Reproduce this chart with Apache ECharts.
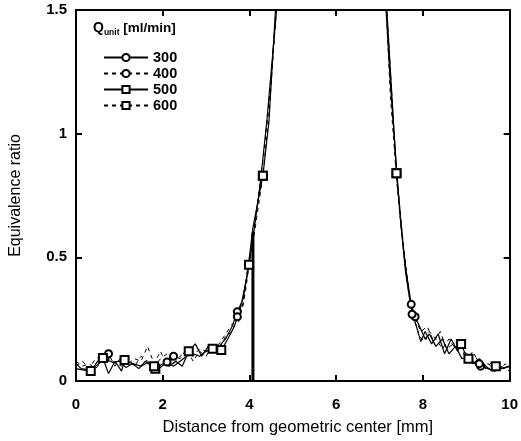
<!DOCTYPE html>
<html>
<head>
<meta charset="utf-8">
<script src="https://cdn.jsdelivr.net/npm/echarts@6/dist/echarts.min.js"></script>
<style>html,body{margin:0;padding:0;background:#fff}#c{width:521px;height:441px}</style>
</head>
<body>
<div id="c"></div>
<script>
// ---- data (x: distance [mm], y: equivalence ratio) ----
var x300 = [0,0.12,0.3,0.45,0.67,0.85,1.0,1.15,1.3,1.5,1.65,1.8,1.95,2.1,2.25,2.4,2.55,2.7,2.85,3.0,3.15,3.3,3.45,3.6,3.72,3.85,3.99,4.1,4.25,4.4,4.55,4.7,
            7.1,7.25,7.4,7.5,7.6,7.73,7.82,7.95,8.05,8.15,8.3,8.45,8.6,8.75,8.9,9.05,9.2,9.33,9.5,9.65,9.8,10];
var y300 = [0.07,0.05,0.045,0.06,0.09,0.075,0.08,0.055,0.07,0.06,0.075,0.06,0.055,0.077,0.06,0.08,0.1,0.11,0.1,0.12,0.13,0.14,0.17,0.22,0.28,0.33,0.47,0.6,0.8,1.05,1.35,1.65,
            1.65,1.2,0.84,0.62,0.46,0.31,0.26,0.21,0.17,0.19,0.14,0.17,0.11,0.14,0.09,0.1,0.07,0.06,0.05,0.04,0.05,0.06];
var m300 = [0.67,2.1,3.72,7.73,7.82,9.33];

var x400 = [0,0.15,0.3,0.45,0.6,0.75,0.9,1.05,1.2,1.35,1.5,1.65,1.8,1.95,2.1,2.25,2.4,2.55,2.7,2.85,3.0,3.15,3.3,3.45,3.6,3.72,3.85,3.95,4.05,4.2,4.35,4.5,4.65,
            7.1,7.25,7.4,7.52,7.62,7.75,7.85,7.95,8.1,8.25,8.4,8.55,8.7,8.85,9.0,9.15,9.3,9.45,9.6,9.75,9.9,10];
var y400 = [0.06,0.08,0.05,0.09,0.1,0.11,0.06,0.1,0.07,0.09,0.08,0.14,0.07,0.12,0.06,0.1,0.09,0.13,0.08,0.12,0.1,0.15,0.13,0.18,0.2,0.26,0.3,0.45,0.55,0.74,0.95,1.22,1.6,
            1.7,1.15,0.8,0.58,0.42,0.27,0.24,0.2,0.22,0.16,0.2,0.13,0.15,0.16,0.08,0.12,0.07,0.05,0.08,0.04,0.07,0.05];
var m400 = [0.75,2.25,3.72,7.75,9.3];

var x500 = [0,0.15,0.34,0.5,0.62,0.75,0.9,1.05,1.12,1.3,1.45,1.6,1.75,1.83,2.0,2.15,2.3,2.45,2.6,2.75,2.9,3.05,3.2,3.35,3.5,3.65,3.8,3.95,4.08,4.31,4.45,4.6,4.7,
            7.1,7.39,7.5,7.6,7.72,7.85,7.95,8.05,8.2,8.35,8.5,8.65,8.8,8.88,9.0,9.15,9.3,9.45,9.6,9.68,9.85,10];
var y500 = [0.05,0.045,0.04,0.08,0.093,0.03,0.08,0.04,0.085,0.07,0.05,0.08,0.06,0.05,0.07,0.06,0.08,0.06,0.12,0.15,0.1,0.14,0.12,0.125,0.17,0.22,0.3,0.43,0.62,0.83,1.05,1.5,1.7,
            1.7,0.84,0.62,0.44,0.3,0.22,0.16,0.2,0.15,0.19,0.11,0.17,0.12,0.15,0.1,0.07,0.09,0.06,0.04,0.06,0.05,0.06];
var m500 = [0.34,0.62,1.12,1.83,2.6,3.35,4.31,7.39,8.88,9.68];

var x600 = [0,0.15,0.3,0.45,0.6,0.75,0.9,1.05,1.2,1.35,1.5,1.65,1.8,1.95,2.1,2.25,2.4,2.55,2.7,2.85,3.0,3.15,3.3,3.45,3.6,3.75,3.9,3.99,4.1,4.31,4.45,4.6,4.7,
            7.1,7.39,7.55,7.68,7.8,7.92,8.05,8.15,8.3,8.45,8.6,8.75,8.9,9.05,9.2,9.35,9.5,9.65,9.8,10];
var y600 = [0.08,0.06,0.07,0.05,0.08,0.1,0.07,0.06,0.09,0.06,0.1,0.08,0.06,0.09,0.11,0.07,0.1,0.12,0.1,0.13,0.12,0.13,0.15,0.19,0.23,0.24,0.35,0.47,0.58,0.83,1.08,1.45,1.7,
            1.7,0.84,0.55,0.36,0.25,0.18,0.16,0.2,0.17,0.13,0.17,0.13,0.15,0.09,0.1,0.06,0.07,0.05,0.06,0.04];
var m600 = [1.8,3.15,3.99,4.31,7.39,9.05];

var xEdge = [4.08,4.08];
var yEdge = [0.6,0];

var seriesNames = ['300','400','500','600'];

function build(xs, ys, marks, sym) {
  return xs.map(function (x, i) {
    return { value: [x, ys[i]], symbol: marks.indexOf(x) >= 0 ? sym : 'none' };
  });
}

var chart = echarts.init(document.getElementById('c'), null, {renderer: 'canvas'});
var FONT = 'Liberation Sans';
var axisCommon = {
  axisLine: {show: true, onZero: false, lineStyle: {color: '#000', width: 2}},
  axisTick: {show: true, inside: true, length: 6, lineStyle: {color: '#000', width: 2}},
  splitLine: {show: false}
};
function mkSeries(name, xs, ys, marks, sym, dashed, size) {
  return {
    name: name, type: 'line', data: build(xs, ys, marks, sym),
    xAxisIndex: 0, yAxisIndex: 0,
    symbol: sym, symbolSize: size, showSymbol: true,
    clip: true, animation: false,
    lineStyle: {color: '#000', width: dashed ? 1 : 1.2, type: dashed ? [4, 4] : 'solid'},
    itemStyle: {color: '#000', borderColor: '#000', borderWidth: 0.8},
    emphasis: {disabled: true}
  };
}
var option = {
  backgroundColor: '#fff',
  animation: false,
  grid: {left: 76, right: 9, top: 10, bottom: 59},
  xAxis: [
    Object.assign({type: 'value', min: 0, max: 10, interval: 2, position: 'bottom',
      name: 'Distance from geometric center [mm]', nameLocation: 'middle', nameGap: 38,
      nameTextStyle: {fontFamily: FONT, fontSize: 16.5, color: '#000', padding: [0, 0, 0, 10]},
      axisLabel: {fontFamily: FONT, fontSize: 15, fontWeight: 'bold', color: '#000', margin: 16}}, axisCommon),
    Object.assign({type: 'value', min: 0, max: 10, interval: 2, position: 'top', axisLabel: {show: false}}, axisCommon)
  ],
  yAxis: [
    Object.assign({type: 'value', min: 0, max: 1.5, interval: 0.5, position: 'left',
      name: 'Equivalence ratio', nameLocation: 'middle', nameGap: 52,
      nameTextStyle: {fontFamily: FONT, fontSize: 16, color: '#000'},
      axisLabel: {fontFamily: FONT, fontSize: 15, fontWeight: 'bold', color: '#000', margin: 9,
        formatter: function (v) { return String(v); }}}, axisCommon),
    Object.assign({type: 'value', min: 0, max: 1.5, interval: 0.5, position: 'right', axisLabel: {show: false}}, axisCommon)
  ],
  legend: {
    data: seriesNames, orient: 'vertical', left: 98, top: 45,
    itemWidth: 44, itemHeight: 9, itemGap: 1,
    textStyle: {fontFamily: FONT, fontSize: 14.5, fontWeight: 'bold', color: '#000', lineHeight: 15},
    selectedMode: false
  },
  graphic: [{
    type: 'text', left: 93, top: 21,
    style: {
      text: '{q|Q}{s|unit}{b| [ml/min]}',
      rich: {
        q: {fontFamily: FONT, fontSize: 14, fontWeight: 'bold', fill: '#000'},
        s: {fontFamily: FONT, fontSize: 8.5, fontWeight: 'bold', fill: '#000', padding: [9, 0, 0, 0]},
        b: {fontFamily: FONT, fontSize: 13.5, fontWeight: 'bold', fill: '#000'}
      }
    }
  }],
  series: [
    mkSeries('300', x300, y300, m300, 'emptyCircle', false, 7),
    mkSeries('400', x400, y400, m400, 'emptyCircle', true, 7),
    mkSeries('500', x500, y500, m500, 'emptyRect', false, 8),
    mkSeries('600', x600, y600, m600, 'emptyRect', true, 8),
    {
      name: 'edge', type: 'line', data: xEdge.map(function (x, i) { return [x, yEdge[i]]; }),
      symbol: 'none', lineStyle: {color: '#000', width: 3}, animation: false, clip: true
    }
  ]
};
chart.setOption(option);
</script>
</body>
</html>
